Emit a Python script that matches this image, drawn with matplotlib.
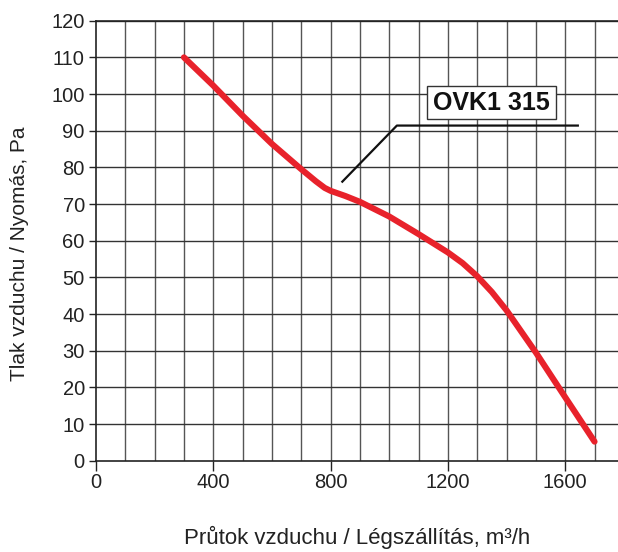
import matplotlib
matplotlib.use("Agg")
import matplotlib.pyplot as plt
from matplotlib.patches import Rectangle

plt.rcParams['font.family'] = ['Liberation Sans', 'DejaVu Sans']

# curve
flow = [300, 400, 500, 600, 700, 750, 780, 800, 825, 850, 900, 1000, 1100, 1200,
        1250, 1300, 1350, 1400, 1500, 1600, 1700]
pressure = [110, 102.3, 94.1, 86.4, 79.5, 76.2, 74.4, 73.6, 72.9, 72.2, 70.6, 66.6, 61.8, 56.8,
            53.9, 50.3, 46.0, 41.0, 29.5, 17.3, 5.2]

# leader line for the label
leader_x = [840, 1026, 1643]
leader_y = [76.1, 91.4, 91.4]

label_text = "OVK1 315"
xticks = [0, 400, 800, 1200, 1600]
yticks = list(range(0, 121, 10))

fig = plt.figure(figsize=(6.18, 5.52), dpi=100)
ax = fig.add_axes([0.1553, 0.1654, 0.8447, 0.7971])

# grid
for gx in range(100, 1701, 100):
    ax.axvline(gx, color='#555555', lw=1.0, zorder=1)
for gy in yticks[1:]:
    ax.axhline(gy, color='#333333', lw=1.0, zorder=1)

ax.plot(flow, pressure, color='#e8222b', lw=4.4, solid_capstyle='round',
        solid_joinstyle='round', zorder=3)
ax.plot(leader_x, leader_y, color='#111111', lw=1.6, zorder=3)

# label box
ax.add_patch(Rectangle((1129, 93.1), 439, 9.1, facecolor='white',
                       edgecolor='#333333', lw=1.0, zorder=4))
ax.text(1348, 97.5, label_text, ha='center', va='center', fontsize=18,
        fontweight='bold', color='#111111', zorder=5)

ax.set_xlim(0, 1780)
ax.set_ylim(0, 120)
ax.set_xticks(xticks)
ax.set_yticks(yticks)
ax.tick_params(axis='both', labelsize=14.5, colors='#222222', length=5, width=1,
               direction='out', pad=3)
ax.tick_params(axis='x', length=7, pad=2)
for s in ['right']:
    ax.spines[s].set_visible(False)
for s in ['left', 'bottom', 'top']:
    ax.spines[s].set_color('#222222')
    ax.spines[s].set_linewidth(1.2)

ax.set_xlabel("Průtok vzduchu / Légszállítás, m³/h", fontsize=16, color='#222222', labelpad=24)
ax.set_ylabel("Tlak vzduchu / Nyomás, Pa", fontsize=15, color='#222222')
ax.yaxis.set_label_coords(-0.128, 0.47)

fig.savefig("out.png", dpi=100)
